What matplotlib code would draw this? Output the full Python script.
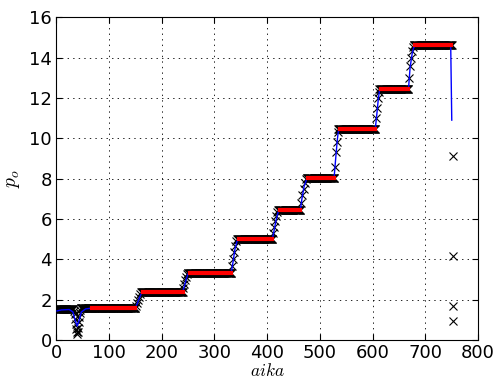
import numpy as np
import matplotlib
matplotlib.use("Agg")
import matplotlib.pyplot as plt

# ---- data ----
plateau_start = [0, 47, 162, 250, 343, 421, 475, 535, 613, 678]
plateau_end = [33, 150, 240, 332, 410, 463, 527, 605, 668, 750]
plateau_level = [1.55, 1.6, 2.4, 3.35, 5.0, 6.45, 8.05, 10.45, 12.45, 14.6]

dip_x = [34, 35, 36, 37, 38, 39, 40, 41, 42, 43, 44, 45, 46]
dip_y = [1.45, 1.3, 1.05, 0.8, 0.55, 0.4, 0.3, 0.4, 0.6, 0.9, 1.15, 1.35, 1.5]

trans_x = [151, 153, 155, 157, 159, 161,
           241, 243, 245, 247, 249,
           333, 335, 337, 339, 341,
           411, 413, 415, 417, 419,
           465, 467, 469, 471, 473,
           528, 530, 532, 534,
           606, 608, 610, 612,
           669, 671, 673, 675, 677]
trans_y = [1.7, 1.85, 2.0, 2.15, 2.3, 2.38,
           2.6, 2.8, 3.0, 3.15, 3.3,
           3.7, 4.0, 4.35, 4.65, 4.9,
           5.3, 5.6, 5.9, 6.15, 6.35,
           6.8, 7.2, 7.5, 7.8, 8.0,
           8.6, 9.3, 9.8, 10.3,
           11.0, 11.5, 12.0, 12.3,
           13.0, 13.6, 14.0, 14.3, 14.5]

outlier_x = [752, 752, 752, 752]
outlier_y = [9.1, 4.15, 1.7, 0.95]

fit_x = [2, 10, 25, 32, 36, 40, 44, 48, 56, 70,
         150, 153, 158, 162, 166,
         240, 243, 247, 250, 254,
         332, 335, 339, 343, 347,
         410, 413, 417, 421, 425,
         463, 466, 470, 475, 479,
         527, 530, 533, 535, 539,
         605, 608, 611, 613, 617,
         668, 671, 675, 678, 682,
         748, 750]
fit_y = [1.45, 1.5, 1.52, 1.4, 1.0, 0.7, 1.0, 1.4, 1.55, 1.6,
         1.6, 1.75, 2.1, 2.33, 2.4,
         2.4, 2.65, 3.05, 3.28, 3.35,
         3.35, 3.8, 4.5, 4.9, 5.0,
         5.0, 5.4, 5.95, 6.35, 6.45,
         6.45, 7.0, 7.6, 7.98, 8.05,
         8.05, 9.0, 9.9, 10.35, 10.45,
         10.45, 11.2, 12.0, 12.35, 12.45,
         12.45, 13.5, 14.2, 14.5, 14.6,
         14.6, 10.9]

red_start = [68, 165, 253, 346, 424, 478, 538, 616, 681]
red_end = [150, 240, 332, 410, 463, 527, 605, 668, 748]
red_level = [1.6, 2.4, 3.35, 5.0, 6.45, 8.05, 10.45, 12.45, 14.6]

xticks = [0, 100, 200, 300, 400, 500, 600, 700, 800]
yticks = [0, 2, 4, 6, 8, 10, 12, 14, 16]

# ---- figure ----
plt.rcParams['mathtext.fontset'] = 'cm'
plt.rcParams['lines.scale_dashes'] = False
fig = plt.figure(figsize=(4.96, 3.81), dpi=100)
ax = fig.add_axes([0.113, 0.107, 0.851, 0.848])

# data points (black x)
px, py = [], []
for s, e, lv in zip(plateau_start, plateau_end, plateau_level):
    xs = np.arange(s, e + 1)
    px.extend(xs)
    py.extend([lv] * len(xs))
px.extend(dip_x); py.extend(dip_y)
px.extend(trans_x); py.extend(trans_y)
px.extend(outlier_x); py.extend(outlier_y)
ax.plot(px, py, 'kx', markersize=5.5, markeredgewidth=0.8, zorder=2)

# fit line (blue)
ax.plot(fit_x, fit_y, '-', color='blue', linewidth=1.0, zorder=3)

# plateau means (red)
for s, e, lv in zip(red_start, red_end, red_level):
    ax.plot([s, e], [lv, lv], '-', color='red', linewidth=3, zorder=4)

ax.set_xlim(0, 800)
ax.set_ylim(0, 16)
ax.set_xticks(xticks)
ax.set_yticks(yticks)
ax.tick_params(direction='in', top=True, right=True, labelsize=13, length=4, pad=3)
ax.grid(True, linestyle=(0, (1, 3)), color='black', linewidth=0.6)
ax.set_axisbelow(True)
ax.set_xlabel('$aika$', fontsize=12.5)
ax.set_ylabel('$p_o$', fontsize=14)
ax.xaxis.set_label_coords(0.5, -0.066)
ax.yaxis.set_label_coords(-0.08, 0.5)

fig.savefig('out.png', dpi=100, facecolor='white')
